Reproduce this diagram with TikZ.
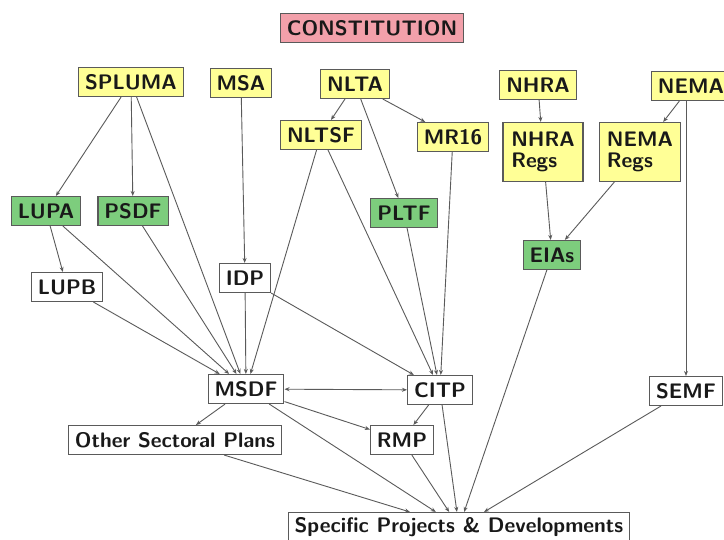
\documentclass[tikz,border=0pt]{standalone}
\usepackage{fontspec}
\usetikzlibrary{arrows.meta}
\definecolor{ylw}{RGB}{255,255,150}
\definecolor{grn}{RGB}{125,205,125}
\definecolor{pnk}{RGB}{242,160,170}
\definecolor{edge}{RGB}{90,90,90}
\tikzset{
  box/.style={draw=edge, line width=1.1pt, inner xsep=6.5pt, inner ysep=2pt,
    minimum height=29pt, text=black!90,
    font=\sffamily\bfseries\fontsize{21}{24}\selectfont},
  ybox/.style={box, fill=ylw},
  gbox/.style={box, fill=grn},
  pbox/.style={box, fill=pnk},
  wbox/.style={box, fill=white},
  conn/.style={draw=edge, line width=0.9pt, -{Stealth[length=5pt,width=4pt]}},
}
\begin{document}
\begin{tikzpicture}[x=1pt,y=-1pt]
\useasboundingbox[fill=white] (0,0) rectangle (724,540);
\node[pbox] (const) at (372,28) {CONSTITUTION};
\node[ybox] (spluma) at (131,82) {SPLUMA};
\node[ybox] (msa) at (241,83) {MSA};
\node[ybox] (nlta) at (355,84) {NLTA};
\node[ybox] (nhra) at (538,85) {NHRA};
\node[ybox] (nema) at (691,86) {NEMA};
\node[ybox] (nltsf) at (321,135) {NLTSF};
\node[ybox] (mr16) at (453,137) {MR16};
\node[ybox, align=left, minimum height=59pt, minimum width=80pt] (nhraregs) at (543,152) {NHRA\\[-3pt]Regs};
\node[ybox, align=left, minimum height=59pt, minimum width=81pt] (nemaregs) at (640,152) {NEMA\\[-3pt]Regs};
\node[gbox] (lupa) at (46,211) {LUPA};
\node[gbox] (psdf) at (133,211) {PSDF};
\node[gbox] (pltf) at (404,213) {PLTF};
\node[gbox] (eias) at (552,255) {EIAs};
\node[wbox] (idp) at (245,278) {IDP};
\node[wbox] (lupb) at (67,287) {LUPB};
\node[wbox] (msdf) at (246,389) {MSDF};
\node[wbox] (citp) at (440,390) {CITP};
\node[wbox] (semf) at (686,391) {SEMF};
\node[wbox] (osp) at (175,440) {Other Sectoral Plans};
\node[wbox] (rmp) at (402,440) {RMP};
\node[wbox] (spd) at (459,527) {Specific Projects \& Developments};

\draw[conn] (spluma) -- (lupa);
\draw[conn] (spluma) -- (psdf);
\draw[conn] (spluma) -- (msdf);
\draw[conn] (msa) -- (idp);
\draw[conn] (nlta) -- (nltsf);
\draw[conn] (nlta) -- (mr16);
\draw[conn] (nlta) -- (pltf);
\draw[conn] (nltsf) -- (msdf);
\draw[conn] (nltsf) -- (citp);
\draw[conn] (mr16) -- (citp);
\draw[conn] (pltf) -- (citp);
\draw[conn] (nhra) -- (nhraregs);
\draw[conn] (nema) -- (nemaregs);
\draw[conn] (nema.south west-|semf.north) -- (semf.north);
\draw[conn] (nhraregs) -- (eias);
\draw[conn] (nemaregs) -- (eias);
\draw[conn] (eias) -- (spd);
\draw[conn] (lupa) -- (lupb);
\draw[conn] (lupa) -- (msdf);
\draw[conn] (psdf) -- (msdf);
\draw[conn] (lupb) -- (msdf);
\draw[conn] (idp) -- (msdf);
\draw[conn] (idp) -- (citp);
\draw[conn, {Stealth[length=5pt,width=4pt]}-{Stealth[length=5pt,width=4pt]}] (msdf) -- (citp);
\draw[conn] (msdf) -- (osp);
\draw[conn] (msdf) -- (rmp);
\draw[conn] (msdf) -- (spd);
\draw[conn] (citp) -- (rmp);
\draw[conn] (citp) -- (spd);
\draw[conn] (rmp) -- (spd);
\draw[conn] (osp) -- (spd);
\draw[conn] (semf) -- (spd);
\end{tikzpicture}
\end{document}
